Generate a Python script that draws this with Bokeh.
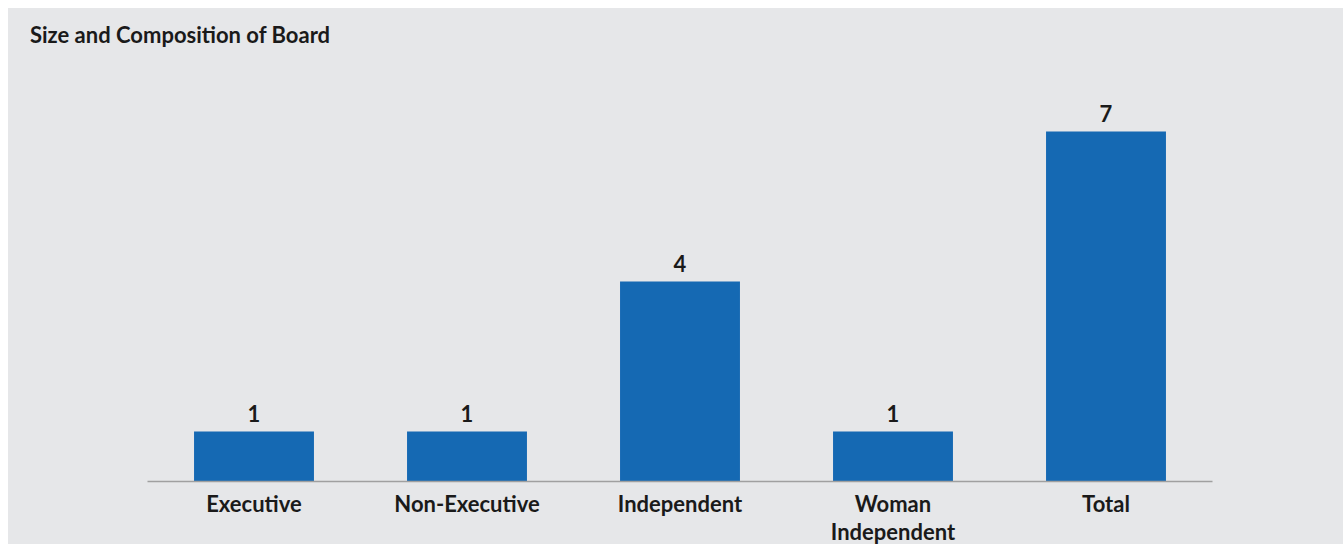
from bokeh.plotting import figure
from bokeh.models import ColumnDataSource, Div
from bokeh.layouts import column
from bokeh.core.properties import value
from bokeh.embed import file_html
from bokeh.resources import INLINE

title_text = "Size and Composition of Board"
categories = ["Executive", "Non-Executive", "Independent", "Woman\nIndependent", "Total"]
counts = [1, 1, 4, 1, 7]
labels = [str(c) for c in counts]

BG = "#e6e7e9"
BAR = "#1569b3"
TXT = "#1a1a1a"
FONT = "Lato"
FS = "22px"

src = ColumnDataSource(dict(cat=categories, val=counts, lab=labels))

head = Div(text=title_text, width=1335, height=40, margin=(0, 0, 0, 0),
           styles={"background-color": BG, "font-family": FONT,
                   "font-weight": "bold", "font-size": FS, "color": TXT,
                   "padding-left": "22px", "padding-top": "14px",
                   "box-sizing": "border-box", "line-height": "1.2"})

p = figure(x_range=categories, y_range=(0, 8),
           frame_width=1065, frame_height=400,
           output_backend="svg", toolbar_location=None,
           background_fill_color=BG, background_fill_alpha=0,
           border_fill_color=BG, border_fill_alpha=0,
           min_border_left=139, min_border_right=131,
           min_border_top=33, min_border_bottom=63)
p.margin = (0, 0, 0, 0)
p.outline_line_color = None

p.vbar(x="cat", top="val", width=0.563, source=src, color=BAR, line_color=None)
p.text(x="cat", y="val", text="lab", source=src, text_align="center",
       text_baseline="bottom", y_offset=-10, text_font=value(FONT),
       text_font_style="bold", text_font_size=FS, text_color=TXT)

p.yaxis.visible = False
p.xgrid.grid_line_color = None
p.ygrid.grid_line_color = None
ax = p.xaxis[0]
ax.axis_line_color = "#a0a0a0"
ax.axis_line_width = 1.5
ax.major_tick_line_color = None
ax.minor_tick_line_color = None
ax.major_label_text_font = FONT
ax.major_label_text_font_style = "bold"
ax.major_label_text_font_size = FS
ax.major_label_text_color = TXT
ax.major_label_text_line_height = 1.05
ax.major_label_standoff = 2

layout = column(head, p, spacing=0)
layout.margin = (8, 0, 0, 8)
layout.styles = {"background-color": BG}

open("out.html", "w").write(file_html(layout, INLINE))
